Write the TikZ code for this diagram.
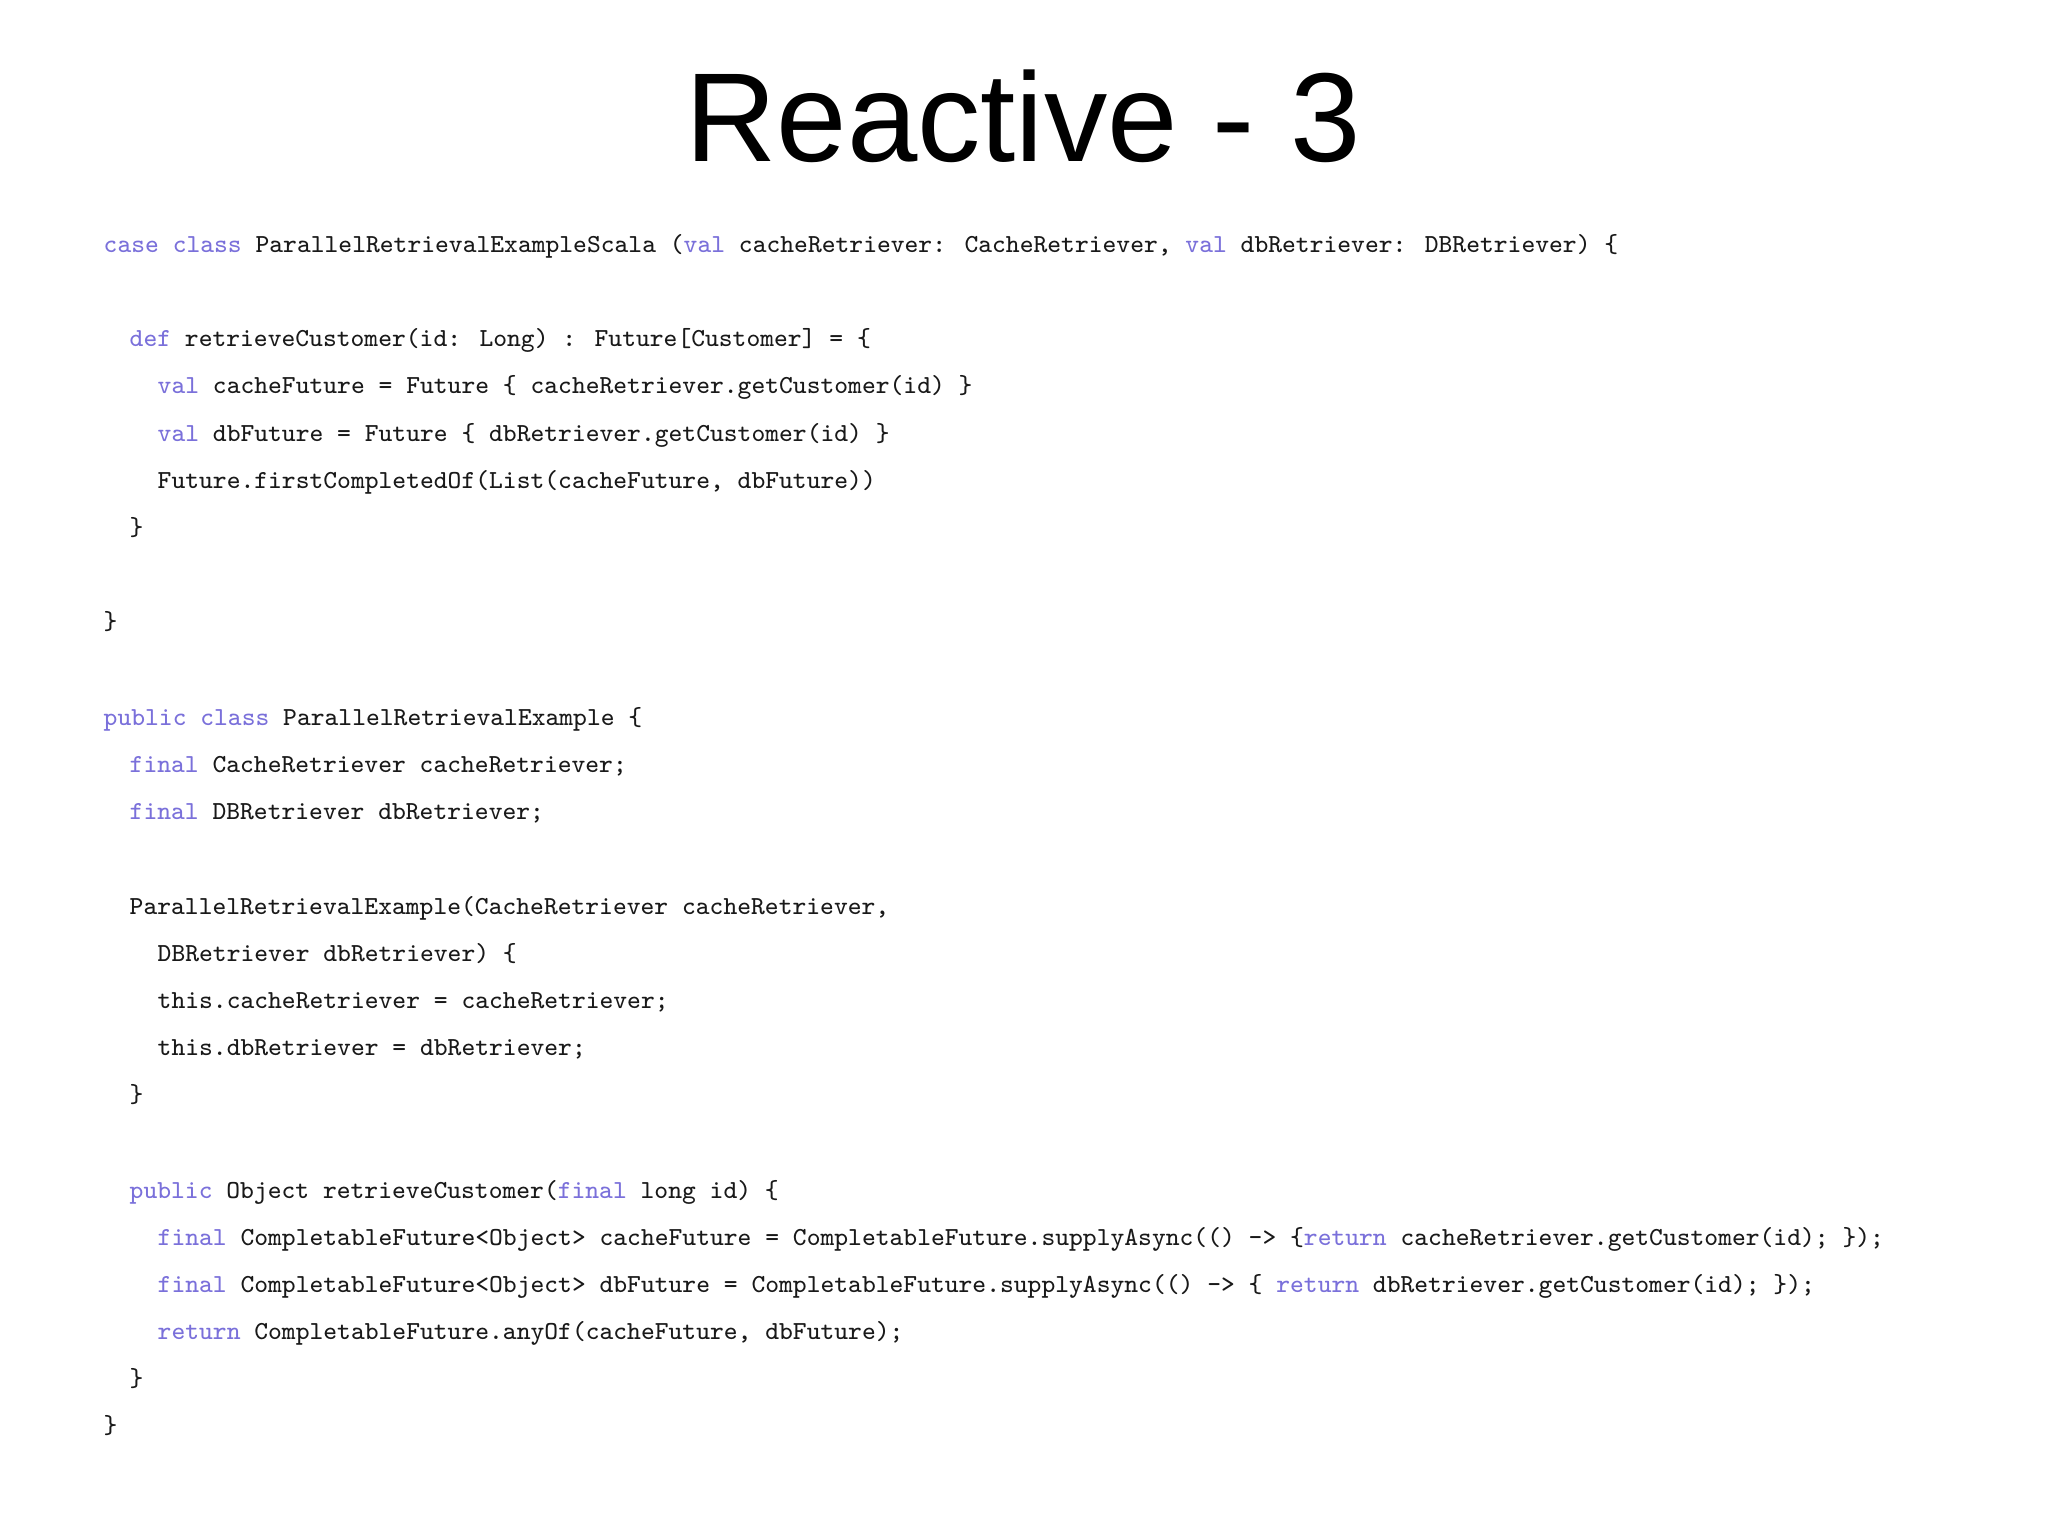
\documentclass[tikz,border=0pt]{standalone}
\usepackage{fontspec}
\setmainfont{Liberation Sans}
\definecolor{kwc}{RGB}{122,112,218}
\definecolor{txc}{RGB}{25,25,25}
\newcommand{\kw}[1]{\textcolor{kwc}{#1}}
\begin{document}
\begin{tikzpicture}[x=1cm,y=1cm,
  code/.style={anchor=base west,inner sep=0pt,font=\ttfamily\fontsize{7.4pt}{9pt}\selectfont,text=txc},
  ttl/.style={anchor=base,inner sep=0pt,font=\fontsize{36pt}{40pt}\selectfont}]
\useasboundingbox (0,0) rectangle (20.48,-15.35);
\node[ttl] (title) at (10.23,-1.61) {Reactive - 3};
\node[code] (l1) at (1.03,-2.52) {\kw{case} \kw{class} ParallelRetrievalExampleScala (\kw{val} cacheRetriever: CacheRetriever, \kw{val} dbRetriever: DBRetriever) \{};
\node[code] (l2) at (1.29,-3.46) {\kw{def} retrieveCustomer(id: Long) : Future[Customer] = \{};
\node[code] (l3) at (1.57,-3.93) {\kw{val} cacheFuture = Future \{ cacheRetriever.getCustomer(id) \}};
\node[code] (l4) at (1.57,-4.41) {\kw{val} dbFuture = Future \{ dbRetriever.getCustomer(id) \}};
\node[code] (l5) at (1.57,-4.88) {Future.firstCompletedOf(List(cacheFuture, dbFuture))};
\node[code] (l6) at (1.29,-5.35) {\}};
\node[code] (l7) at (1.03,-6.29) {\}};
\node[code] (l8) at (1.03,-7.25) {\kw{public} \kw{class} ParallelRetrievalExample \{};
\node[code] (l9) at (1.29,-7.72) {\kw{final} CacheRetriever cacheRetriever;};
\node[code] (l10) at (1.29,-8.19) {\kw{final} DBRetriever dbRetriever;};
\node[code] (l11) at (1.29,-9.14) {ParallelRetrievalExample(CacheRetriever cacheRetriever,};
\node[code] (l12) at (1.57,-9.61) {DBRetriever dbRetriever) \{};
\node[code] (l13) at (1.57,-10.08) {this.cacheRetriever = cacheRetriever;};
\node[code] (l14) at (1.57,-10.55) {this.dbRetriever = dbRetriever;};
\node[code] (l15) at (1.29,-11.02) {\}};
\node[code] (l16) at (1.29,-11.98) {\kw{public} Object retrieveCustomer(\kw{final} long id) \{};
\node[code] (l17) at (1.57,-12.45) {\kw{final} CompletableFuture<Object> cacheFuture = CompletableFuture.supplyAsync(() -> \{\kw{return} cacheRetriever.getCustomer(id); \});};
\node[code] (l18) at (1.57,-12.92) {\kw{final} CompletableFuture<Object> dbFuture = CompletableFuture.supplyAsync(() -> \{ \kw{return} dbRetriever.getCustomer(id); \});};
\node[code] (l19) at (1.57,-13.39) {\kw{return} CompletableFuture.anyOf(cacheFuture, dbFuture);};
\node[code] (l20) at (1.29,-13.86) {\}};
\node[code] (l21) at (1.03,-14.33) {\}};
\end{tikzpicture}
\end{document}
